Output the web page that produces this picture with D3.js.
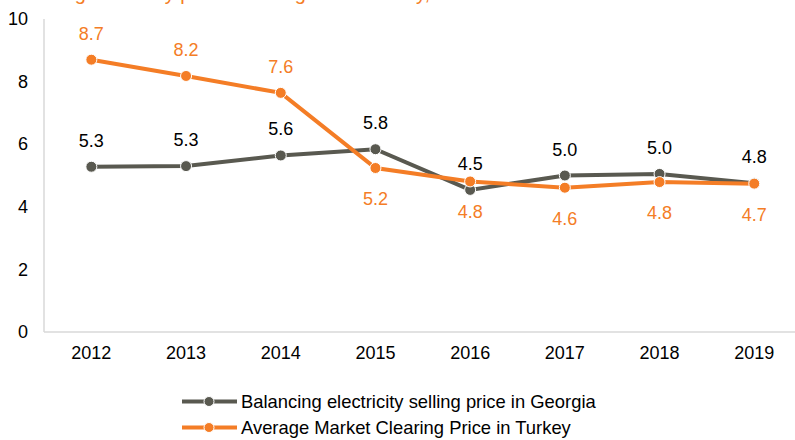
<!DOCTYPE html>
<html>
<head>
<meta charset="utf-8">
<script src="https://cdn.jsdelivr.net/npm/d3@7"></script>
<style>
    body { margin: 0; background: #fff; }
    svg { display: block; font-family: "Liberation Sans", Arial, sans-serif; }
</style>
</head>
<body>
<div class="card"></div>
<script>
// chart data
var years = ["2012", "2013", "2014", "2015", "2016", "2017", "2018", "2019"];
var georgiaValues = [5.28, 5.30, 5.64, 5.84, 4.54, 5.00, 5.05, 4.75];
var turkeyValues = [8.70, 8.18, 7.64, 5.24, 4.81, 4.61, 4.79, 4.74];
var turkeyLabelBelow = [false, false, false, true, true, true, true, true];
var yTicks = [0, 2, 4, 6, 8, 10];
var seriesNames = ["Balancing electricity selling price in Georgia", "Average Market Clearing Price in Turkey"];
var titleText = "Balancing electricity price in Georgia and Turkey, USc/kWh";

var grey = "#595950", orange = "#f47d26";
var svgWidth = 795, svgHeight = 440;
var margin = { top: 19, left: 44, bottom: 108 };
var height = svgHeight - margin.top - margin.bottom;
var step = 94.7;

var svg = d3.select(".card").append("svg")
    .attr("width", svgWidth)
    .attr("height", svgHeight);

// title, cut off at the top edge as in the source picture
svg.append("text")
    .attr("x", -2)
    .attr("y", 0)
    .attr("fill", orange)
    .style("font-size", "20px")
    .text(titleText);

var x = d3.scaleBand().domain(years).range([margin.left, margin.left + step * years.length]).padding(0);
var y = d3.scaleLinear().domain([0, 10]).range([margin.top + height, margin.top]);
var cx = function (d) { return x(d) + x.bandwidth() / 2; };

// axis lines
svg.append("line")
    .attr("x1", margin.left).attr("x2", margin.left)
    .attr("y1", y(10)).attr("y2", y(0))
    .attr("stroke", "#d9d9d9").attr("stroke-width", 1.5);
svg.append("line")
    .attr("x1", margin.left).attr("x2", svgWidth)
    .attr("y1", y(0)).attr("y2", y(0))
    .attr("stroke", "#d9d9d9").attr("stroke-width", 1.5);

// y axis labels
var yAxis = svg.append("g")
    .attr("transform", `translate(${margin.left - 16}, 0)`)
    .call(d3.axisLeft(y).tickValues(yTicks).tickSize(0).tickPadding(0));
yAxis.select(".domain").remove();
yAxis.selectAll("text").style("font-size", "18px").attr("fill", "#000").attr("font-family", null);

// x axis labels
var xAxis = svg.append("g")
    .attr("transform", `translate(0, ${y(0)})`)
    .call(d3.axisBottom(x).tickSize(0).tickPadding(14));
xAxis.select(".domain").remove();
xAxis.selectAll("text").style("font-size", "18px").attr("fill", "#000").attr("font-family", null);

var line = d3.line()
    .x(function (d) { return cx(d.year); })
    .y(function (d) { return y(d.value); });

function drawSeries(values, color, labelColor, below) {
    var data = years.map(function (yr, i) { return { year: yr, value: values[i], below: below ? below[i] : false }; });
    svg.append("path")
        .datum(data)
        .attr("fill", "none")
        .attr("stroke", color)
        .attr("stroke-width", 4)
        .attr("d", line);
    svg.selectAll(null).data(data).enter().append("circle")
        .attr("cx", function (d) { return cx(d.year); })
        .attr("cy", function (d) { return y(d.value); })
        .attr("r", 5.5)
        .attr("fill", color)
        .attr("stroke", "#fff")
        .attr("stroke-width", 1);
    svg.selectAll(null).data(data).enter().append("text")
        .attr("x", function (d) { return cx(d.year); })
        .attr("y", function (d) { return y(d.value) + (d.below ? 37 : -20); })
        .attr("text-anchor", "middle")
        .attr("fill", labelColor)
        .style("font-size", "18px")
        .text(function (d) { return d.value.toFixed(1); });
}

drawSeries(georgiaValues, grey, "#000", null);
drawSeries(turkeyValues, orange, orange, turkeyLabelBelow);

// legend
var legend = svg.append("g");
[grey, orange].forEach(function (c, i) {
    var ly = 401.5 + i * 26;
    legend.append("line")
        .attr("x1", 182).attr("x2", 237)
        .attr("y1", ly).attr("y2", ly)
        .attr("stroke", c).attr("stroke-width", 4);
    legend.append("circle")
        .attr("cx", 209).attr("cy", ly).attr("r", 5)
        .attr("fill", c).attr("stroke", "#fff").attr("stroke-width", 1);
    legend.append("text")
        .attr("x", 241).attr("y", ly + 6.5)
        .attr("fill", "#000")
        .style("font-size", "18.4px")
        .text(seriesNames[i]);
});
</script>
</body>
</html>
